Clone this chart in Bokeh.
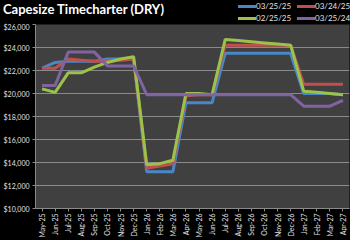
from bokeh.plotting import figure
from bokeh.layouts import column
from bokeh.models import (FactorRange, Range1d, NumeralTickFormatter, SingleIntervalTicker, Div)
from bokeh.embed import file_html
from bokeh.resources import INLINE
import math

months = ["May-25", "Jun-25", "Jul-25", "Aug-25", "Sep-25", "Oct-25", "Nov-25", "Dec-25",
          "Jan-26", "Feb-26", "Mar-26", "Apr-26", "May-26", "Jun-26", "Jul-26", "Aug-26",
          "Sep-26", "Oct-26", "Nov-26", "Dec-26", "Jan-27", "Feb-27", "Mar-27", "Apr-27"]

s_032525 = [22200, 22700, 22800, 22800, 22800, 23000, 23000, 23000,
            13200, 13200, 13200, 19200, 19200, 19200, 23500, 23500,
            23500, 23500, 23500, 23500, 20000, 20000, 20000, 19900]
s_032425 = [22200, 22200, 23000, 22900, 22800, 22800, 22900, 23000,
            13500, 13700, 13900, 19800, 19900, 19900, 24200, 24200,
            24200, 24200, 24200, 24200, 20800, 20800, 20800, 20800]
s_022525 = [20400, 20100, 21800, 21800, 22300, 22700, 23000, 23200,
            13800, 13900, 14200, 20000, 20000, 19900, 24700, 24600,
            24500, 24400, 24300, 24200, 20200, 20100, 20000, 19900]
s_032524 = [20700, 20700, 23600, 23600, 23600, 22400, 22400, 22400,
            19900, 19900, 19900, 19900, 19900, 19900, 19900, 19900,
            19900, 19900, 19900, 19900, 18900, 18900, 18900, 19400]

series = [("03/25/25", s_032525, "#4a86c8"),
          ("03/24/25", s_032425, "#c0504d"),
          ("02/25/25", s_022525, "#9bc34a"),
          ("03/25/24", s_032524, "#8064a2")]
colors = {n: c for n, _, c in series}
legend_rows = [["03/25/25", "03/24/25"], ["02/25/25", "03/25/24"]]
title_text = "Capesize Timecharter (DRY)"

FONT = "Lato"
HEAD_H = 22

# ---- header (title + legend) as HTML ----
parts = [f'<div style="position:relative;width:350px;height:{HEAD_H}px;background:#000;'
         f'font-family:{FONT};overflow:hidden;margin:0;padding:0;">',
         f'<span style="position:absolute;left:3px;top:1px;font-size:13px;font-weight:bold;'
         f'color:#ffffff;line-height:16px;white-space:nowrap;">{title_text}</span>']
for ri, row in enumerate(legend_rows):
    cy = 6 + 12 * ri
    for ci, name in enumerate(row):
        x0 = 238 + 59 * ci
        parts.append(f'<span style="position:absolute;left:{x0}px;top:{cy - 1}px;width:18px;'
                     f'height:3px;background:{colors[name]};"></span>')
        parts.append(f'<span style="position:absolute;left:{x0 + 18}px;top:{cy - 5}px;'
                     f'font-size:8px;line-height:10px;color:#e0e0e0;white-space:nowrap;">{name}</span>')
parts.append('</div>')
head = Div(text="".join(parts), width=350, height=HEAD_H, margin=0,
           styles={"background-color": "#000000", "padding": "0px"})

# ---- main chart ----
p = figure(width=350, height=240 - HEAD_H, output_backend="svg", toolbar_location=None,
           x_range=FactorRange(*months, range_padding=0), y_range=Range1d(10000, 26000),
           min_border_left=35, min_border_right=1, min_border_top=24 - HEAD_H,
           min_border_bottom=30, margin=0)
p.background_fill_color = "#404040"
p.border_fill_color = "#000000"
p.outline_line_color = None

for name, vals, col in series:
    p.line(months, vals, line_color=col, line_width=3)

p.xgrid.grid_line_color = None
p.ygrid.grid_line_color = "#8a8a8a"
p.ygrid.grid_line_width = 1

p.yaxis.ticker = SingleIntervalTicker(interval=2000)
p.yaxis.formatter = NumeralTickFormatter(format="$0,0")
for ax in (p.xaxis[0], p.yaxis[0]):
    ax.axis_line_color = "#8a8a8a"
    ax.major_tick_line_color = "#8a8a8a"
    ax.minor_tick_line_color = None
    ax.major_tick_out = 3
    ax.major_tick_in = 0
    ax.major_label_text_color = "#e0e0e0"
    ax.major_label_text_font = FONT
    ax.major_label_text_font_size = "7px"
    ax.major_label_standoff = 2
p.xaxis.major_label_orientation = math.pi / 2
p.xaxis.group_text_font_size = "0px"

layout = column(head, p, spacing=0, margin=0, styles={"background-color": "#000000"})
open("out.html", "w").write(file_html(layout, INLINE))
